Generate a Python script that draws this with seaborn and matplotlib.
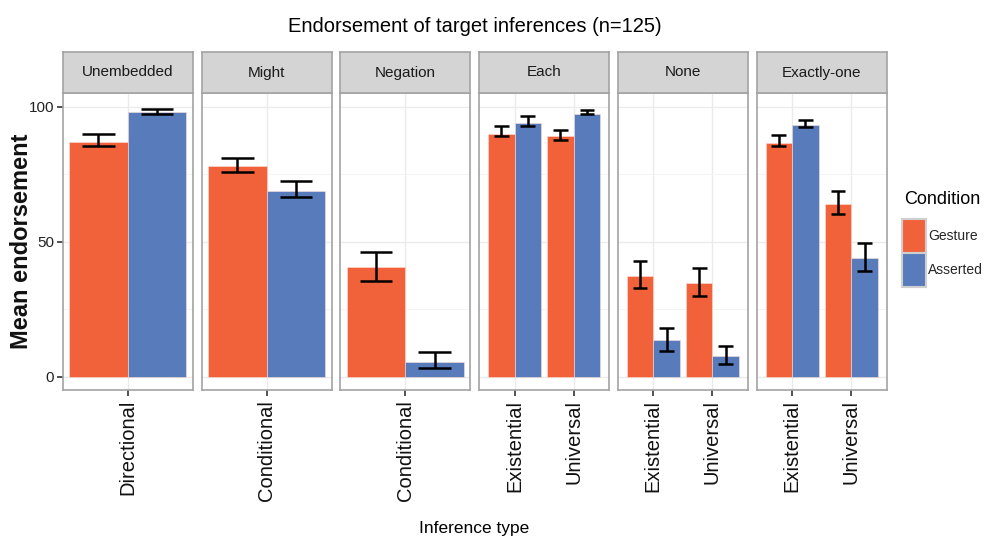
import numpy as np
import pandas as pd
import seaborn as sns
import matplotlib.pyplot as plt
from matplotlib.patches import Patch

# data
panels = ['Unembedded', 'Might', 'Negation', 'Each', 'None', 'Exactly-one']
row_panel = ['Unembedded', 'Might', 'Negation', 'Each', 'Each', 'None', 'None', 'Exactly-one', 'Exactly-one']
inference = ['Directional', 'Conditional', 'Conditional', 'Existential', 'Universal',
             'Existential', 'Universal', 'Existential', 'Universal']
gesture_mean = [86.8, 77.9, 40.5, 90.0, 89.0, 37.2, 34.7, 86.5, 63.9]
gesture_lo = [85.3, 75.7, 35.6, 89.0, 87.8, 32.8, 30.0, 85.3, 60.2]
gesture_hi = [89.9, 81.1, 46.3, 92.7, 91.2, 42.7, 40.1, 89.6, 68.9]
asserted_mean = [98.0, 68.9, 5.6, 93.9, 97.4, 13.5, 7.5, 93.3, 43.9]
asserted_lo = [97.3, 66.5, 3.2, 92.8, 97.3, 9.6, 4.8, 92.5, 39.2]
asserted_hi = [99.0, 72.3, 9.0, 96.5, 98.9, 18.0, 11.2, 95.1, 49.4]
conditions = ['Gesture', 'Asserted']
colors = {'Gesture': '#F1623A', 'Asserted': '#577BBB'}

df = pd.concat([
    pd.DataFrame({'panel': row_panel, 'inference': inference, 'condition': 'Gesture',
                  'mean': gesture_mean, 'lo': gesture_lo, 'hi': gesture_hi}),
    pd.DataFrame({'panel': row_panel, 'inference': inference, 'condition': 'Asserted',
                  'mean': asserted_mean, 'lo': asserted_lo, 'hi': asserted_hi}),
], ignore_index=True)

sns.set_theme(style='white')
plt.rcParams['font.family'] = ['Liberation Sans', 'DejaVu Sans']

W, H = 984, 541
fig = plt.figure(figsize=(W / 100, H / 100), dpi=100)

left0, step, pw = 62.7, 138.8, 130
ptop, pbot, stop = 93.3, 390, 51.7
for i, p in enumerate(panels):
    x0 = left0 + i * step
    ax = fig.add_axes([x0 / W, 1 - pbot / H, pw / W, (pbot - ptop) / H])
    sub = df[df.panel == p]
    cats = list(dict.fromkeys(sub.inference))
    sns.barplot(data=sub, x='inference', y='mean', hue='condition', hue_order=conditions,
                order=cats, palette=colors, width=0.9, errorbar=None, legend=False,
                saturation=1, edgecolor='#FBE0D8', linewidth=0.4, ax=ax)
    # error bars at bar centres
    for cont, cond in zip(ax.containers, conditions):
        sc = sub[sub.condition == cond].set_index('inference').loc[cats]
        for bar, (_, r) in zip(cont, sc.iterrows()):
            xc = bar.get_x() + bar.get_width() / 2
            ax.vlines(xc, r['lo'], r['hi'], color='black', lw=1.8, zorder=4)
            ax.hlines([r['lo'], r['hi']], xc - 0.125, xc + 0.125, color='black', lw=1.8, zorder=4)
    n = len(cats)
    if n == 1:
        ax.set_xlim(-0.5, 0.5)
    else:
        ax.set_xlim(-0.6, n - 1 + 0.6)
    ax.set_ylim(-4.95, 104.95)
    ax.set_yticks([0, 50, 100])
    ax.set_yticks([25, 75], minor=True)
    ax.grid(which='major', color='#EBEBEB', lw=1.0)
    ax.grid(which='minor', axis='y', color='#F4F4F4', lw=0.7)
    ax.set_axisbelow(True)
    for s in ax.spines.values():
        s.set_color('#A3A3A3')
        s.set_linewidth(1.2)
    ax.set_xlabel('')
    ax.set_ylabel('')
    ax.tick_params(axis='x', which='major', bottom=True, length=4, width=1.2, color='#333333',
                   labelsize=14.5, labelcolor='#111111', rotation=90, pad=3)
    if i == 0:
        ax.tick_params(axis='y', which='major', left=True, length=4, width=1.2, color='#333333',
                       labelsize=11, labelcolor='#222222', pad=2)
    else:
        ax.tick_params(axis='y', which='both', left=False, labelleft=False)
    ax.tick_params(axis='y', which='minor', left=False)

    # facet strip
    sax = fig.add_axes([x0 / W, 1 - ptop / H, pw / W, (ptop - stop) / H])
    sax.set_facecolor('#D4D4D4')
    sax.set_xticks([])
    sax.set_yticks([])
    for s in sax.spines.values():
        s.set_color('#A3A3A3')
        s.set_linewidth(1.2)
    sax.text(0.5, 0.5, p, ha='center', va='center', fontsize=11, color='#1A1A1A',
             transform=sax.transAxes)

fig.text(474.5 / W, 1 - 27 / H, 'Endorsement of target inferences (n=125)',
         ha='center', va='center', fontsize=14.5, color='black')
fig.text(474.5 / W, 1 - 528 / H, 'Inference type', ha='center', va='center',
         fontsize=12.5, color='black')
fig.text(22 / W, 1 - 241.5 / H, 'Mean endorsement', ha='center', va='center',
         rotation=90, fontsize=17, fontweight='bold', color='#111111')

# legend: title placed separately to keep the gap above the keys
fig.text(904 / W, 1 - 200 / H, 'Condition', ha='left', va='center', fontsize=13, color='black')
handles = [Patch(facecolor=colors[c], edgecolor='#CFCFCF', linewidth=1.5) for c in conditions]
fig.legend(handles, conditions, loc='upper left',
           bbox_to_anchor=(902 / W, 1 - 219 / H), frameon=False, fontsize=10,
           handlelength=1.7, handleheight=3.4, labelspacing=0.0,
           handletextpad=0.2, borderaxespad=0, borderpad=0)

fig.savefig('out.png', dpi=100)
